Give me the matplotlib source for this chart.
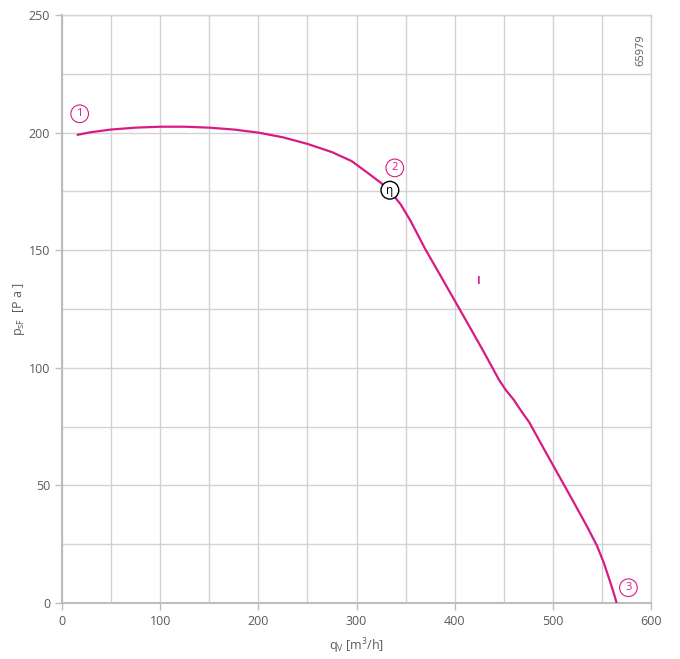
"""Fan curve: static pressure vs. air flow."""

import matplotlib
matplotlib.use("Agg")
import matplotlib.pyplot as plt

# air flow q_V [m3/h] and static pressure p_sF [Pa]
flow = [15, 30, 50, 75, 100, 125, 150, 175, 200, 225, 250, 275, 295, 310, 325, 335,
        345, 355, 370, 385, 400, 415, 430, 445, 452, 460, 468, 476, 490, 505, 520,
        535, 545, 552, 558, 562, 565]
pressure = [199, 200.2, 201.3, 202.1, 202.5, 202.5, 202.1, 201.3, 200.0, 198.0, 195.2,
            191.7, 187.9, 183.3, 178.6, 174.6, 169.5, 162.5, 150.5, 139.6, 128.6, 117.6,
            106.5, 95.0, 90.6, 86.5, 81.5, 76.8, 66.2, 55.0, 43.8, 32.4, 24.3, 17.0,
            9.5, 4.3, 0]

x_ticks = [0, 100, 200, 300, 400, 500, 600]
y_ticks = [0, 50, 100, 150, 200, 250]

# operating-point markers
points = ["1", "2", "3"]
point_x = [18, 339, 577]
point_y = [208, 185, 6.5]

MAGENTA = "#d81b84"
GRAY = "#5a5a5a"

plt.rcParams["font.family"] = ["Open Sans", "DejaVu Sans"]

fig = plt.figure(figsize=(6.8, 6.59), dpi=100)
ax = fig.add_axes([62 / 680, 56 / 659, 589 / 680, 588 / 659])

ax.plot(flow, pressure, color=MAGENTA, linewidth=1.6, solid_capstyle="butt", zorder=3)

for label, px, py in zip(points, point_x, point_y):
    ax.text(px, py, label, color=MAGENTA, fontsize=8, ha="center", va="center",
            bbox=dict(boxstyle="circle,pad=0.3", facecolor="white", edgecolor=MAGENTA,
                      linewidth=0.8), zorder=4)

ax.text(334, 175.5, "η", color="black", fontsize=8.5, ha="center", va="center",
        bbox=dict(boxstyle="circle,pad=0.2", facecolor="white", edgecolor="black",
                  linewidth=1.0), zorder=5)
ax.text(425, 136.5, "I", color=MAGENTA, fontsize=8, fontweight="bold", ha="center", va="center")
ax.text(590, 235, "65979", color=GRAY, fontsize=8, rotation=90, ha="center", va="center")

ax.set_xlim(0, 600)
ax.set_ylim(0, 250)
ax.set_xticks(x_ticks)
ax.set_yticks(y_ticks)
ax.set_xticks(range(0, 601, 50), minor=True)
ax.set_yticks(range(0, 251, 25), minor=True)
ax.grid(which="both", color="#d2d2d2", linewidth=1.0)
ax.set_axisbelow(True)
ax.tick_params(which="major", colors="#bdbdbd", labelcolor=GRAY, labelsize=9, length=5, width=1)
ax.tick_params(which="minor", length=0)

for side in ["top", "right"]:
    ax.spines[side].set_color("#d2d2d2")
    ax.spines[side].set_linewidth(1.0)
for side in ["left", "bottom"]:
    ax.spines[side].set_color("#bdbdbd")
    ax.spines[side].set_linewidth(1.5)

ax.set_xlabel(r"q$_\mathregular{V}$ [m$^\mathregular{3}$/h]", color=GRAY, fontsize=9, labelpad=6)
ax.set_ylabel(r"p$_\mathregular{sF}$  [P a ]", color=GRAY, fontsize=9, labelpad=1)

fig.savefig("out.png", dpi=100)
